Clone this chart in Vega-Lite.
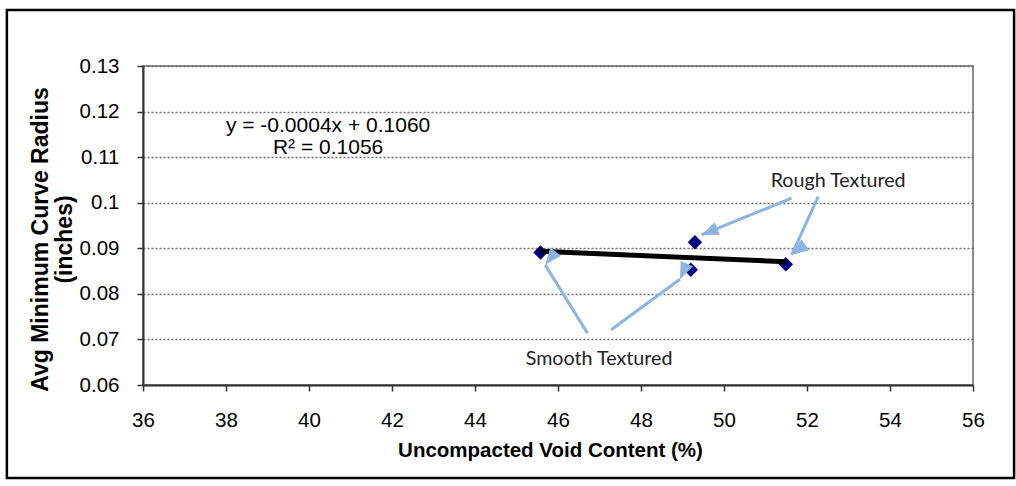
{
  "$schema": "https://vega.github.io/schema/vega-lite/v6.json",
  "width": 830,
  "height": 319,
  "autosize": {"type": "none"},
  "padding": {"left": 143, "top": 66, "right": 43, "bottom": 101},
  "background": "white",
  "config": {
    "view": {"stroke": "#8c8c8c", "strokeWidth": 2},
    "font": "Liberation Sans"
  },
  "datasets": {
    "points": [
      {"void": 45.58, "radius": 0.0891, "texture": "Smooth"},
      {"void": 49.30, "radius": 0.0913, "texture": "Rough"},
      {"void": 49.20, "radius": 0.0853, "texture": "Smooth"},
      {"void": 51.49, "radius": 0.0865, "texture": "Rough"}
    ],
    "arrows": [
      {"id": "R1", "x1": 51.63, "y1": 0.10099, "x2": 49.46, "y2": 0.09294},
      {"id": "R2", "x1": 52.27, "y1": 0.10134, "x2": 51.63, "y2": 0.08855},
      {"id": "S1", "x1": 46.71, "y1": 0.07138, "x2": 45.69, "y2": 0.08636},
      {"id": "S2", "x1": 47.28, "y1": 0.07211, "x2": 48.94, "y2": 0.08322}
    ],
    "labels": [
      {"text": "Rough Textured", "x": 52.75, "y": 0.1048},
      {"text": "Smooth Textured", "x": 46.99, "y": 0.06564}
    ],
    "equation": [
      {"text": "y = -0.0004x + 0.1060", "x": 40.46, "y": 0.11691},
      {"text": "R² = 0.1056", "x": 40.46, "y": 0.11208}
    ],
    "frame": [
      {"left": 32.72, "right": 56.99, "top": 0.1423, "bottom": 0.0396}
    ]
  },
  "layer": [
    {
      "data": {"name": "frame"},
      "mark": {"type": "rect", "fill": null, "stroke": "black", "strokeWidth": 2.5, "clip": false},
      "encoding": {
        "x": {"field": "left", "type": "quantitative", "scale": {"domain": [36, 56], "nice": false, "zero": false}},
        "x2": {"field": "right"},
        "y": {"field": "top", "type": "quantitative", "scale": {"domain": [0.06, 0.13], "nice": false, "zero": false}},
        "y2": {"field": "bottom"}
      }
    },
    {
      "data": {"name": "points"},
      "mark": {"type": "point", "shape": "diamond", "filled": true, "color": "#000080", "size": 210, "opacity": 1},
      "encoding": {
        "x": {
          "field": "void", "type": "quantitative",
          "scale": {"domain": [36, 56], "nice": false, "zero": false},
          "axis": {
            "values": [36, 38, 40, 42, 44, 46, 48, 50, 52, 54, 56],
            "grid": false, "labelFlush": false,
            "domainColor": "#333333", "domainWidth": 2,
            "tickColor": "#333333", "tickSize": 6, "tickWidth": 1.5,
            "labelFontSize": 20.5, "labelColor": "black", "labelPadding": 19.5,
            "title": "Uncompacted Void Content (%)",
            "titleFontSize": 20.5, "titleFontWeight": "bold", "titleColor": "black", "titlePadding": 9,
            "titleX": 407
          }
        },
        "y": {
          "field": "radius", "type": "quantitative",
          "scale": {"domain": [0.06, 0.13], "nice": false, "zero": false},
          "axis": {
            "values": [0.06, 0.07, 0.08, 0.09, 0.1, 0.11, 0.12, 0.13],
            "format": "~g", "labelFlush": false,
            "grid": true, "gridColor": "#6e6e6e", "gridDash": [2, 2], "gridWidth": 1.3,
            "domainColor": "#333333", "domainWidth": 2,
            "tickColor": "#333333", "tickSize": 6, "tickWidth": 1.5,
            "labelFontSize": 20.5, "labelColor": "black", "labelPadding": 18,
            "title": ["Avg Minimum Curve Radius", "\u00a0\u00a0\u00a0\u00a0\u00a0\u00a0\u00a0\u00a0\u00a0\u00a0\u00a0(inches)"],
            "titleFontSize": 23, "titleFontWeight": "bold", "titleColor": "black",
            "titlePadding": 3, "titleLineHeight": 24, "titleY": 173
          }
        }
      }
    },
    {
      "data": {"name": "points"},
      "transform": [{"regression": "radius", "on": "void"}],
      "mark": {"type": "line", "color": "black", "strokeWidth": 5},
      "encoding": {
        "x": {"field": "void", "type": "quantitative", "scale": {"domain": [36, 56], "nice": false, "zero": false}},
        "y": {"field": "radius", "type": "quantitative", "scale": {"domain": [0.06, 0.13], "nice": false, "zero": false}}
      }
    },
    {
      "data": {"name": "arrows"},
      "mark": {"type": "rule", "color": "#8db3e2", "strokeWidth": 3},
      "encoding": {
        "x": {"field": "x1", "type": "quantitative", "scale": {"domain": [36, 56], "nice": false, "zero": false}},
        "y": {"field": "y1", "type": "quantitative", "scale": {"domain": [0.06, 0.13], "nice": false, "zero": false}},
        "x2": {"field": "x2"},
        "y2": {"field": "y2"}
      }
    },
    {
      "data": {"name": "arrows"},
      "mark": {"type": "point", "shape": "M0,0 L-0.4,1 L0.4,1 Z", "filled": true, "color": "#8db3e2", "size": 1150, "opacity": 1},
      "encoding": {
        "x": {"field": "x2", "type": "quantitative", "scale": {"domain": [36, 56], "nice": false, "zero": false}},
        "y": {"field": "y2", "type": "quantitative", "scale": {"domain": [0.06, 0.13], "nice": false, "zero": false}},
        "angle": {"field": "id", "type": "nominal", "scale": {"domain": ["R1", "R2", "S1", "S2"], "range": [248, 204, 328, 54]}, "legend": null}
      }
    },
    {
      "data": {"name": "labels"},
      "mark": {"type": "text", "font": "Lato", "fontSize": 19.7, "color": "#222222", "align": "center", "baseline": "middle"},
      "encoding": {
        "x": {"field": "x", "type": "quantitative", "scale": {"domain": [36, 56], "nice": false, "zero": false}},
        "y": {"field": "y", "type": "quantitative", "scale": {"domain": [0.06, 0.13], "nice": false, "zero": false}},
        "text": {"field": "text"}
      }
    },
    {
      "data": {"name": "equation"},
      "mark": {"type": "text", "fontSize": 21, "color": "black", "align": "center", "baseline": "middle"},
      "encoding": {
        "x": {"field": "x", "type": "quantitative", "scale": {"domain": [36, 56], "nice": false, "zero": false}},
        "y": {"field": "y", "type": "quantitative", "scale": {"domain": [0.06, 0.13], "nice": false, "zero": false}},
        "text": {"field": "text"}
      }
    }
  ]
}
